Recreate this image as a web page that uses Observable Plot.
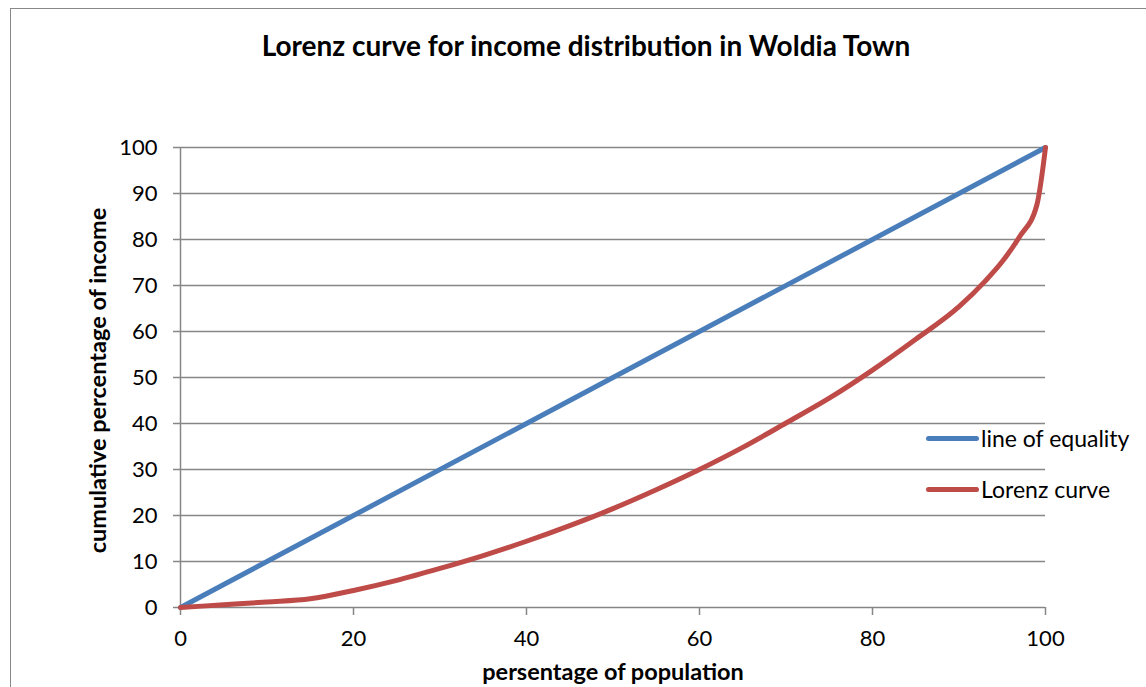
<!DOCTYPE html>
<html>
<head>
<meta charset="utf-8">
<script src="https://cdn.jsdelivr.net/npm/d3@7"></script>
<script src="https://cdn.jsdelivr.net/npm/@observablehq/plot@0.6"></script>
<style>
  html, body { margin:0; padding:0; background:#fff; overflow:hidden; }
  #wrap { position:relative; width:1146px; height:687px; font-family:Lato, "Open Sans", sans-serif; }
  #frame { position:absolute; left:10px; top:8px; width:1200px; height:800px; border:1.5px solid #888; box-sizing:border-box; }
  #chart { position:absolute; left:0; top:0; }
  .leg { position:absolute; display:flex; align-items:center; font-size:23px; color:#000; }
  .sw { width:53px; height:5px; border-radius:3px; margin-right:2px; }
</style>
</head>
<body>
<div id="wrap">
  <div id="frame"></div>
  <div id="chart"></div>
  <div id="legend"></div>
</div>
<script>
const titleText = "Lorenz curve for income distribution in Woldia Town";
const xLabel = "persentage of population";
const yLabel = "cumulative percentage of income";
const seriesNames = ["line of equality", "Lorenz curve"];
const seriesColors = ["#4A7EBB", "#BE4B48"];

const equalityX = [0, 100];
const equalityY = [0, 100];

const lorenzX = [0, 5, 10, 15, 20, 25, 30, 35, 40, 45, 50, 55, 60, 65, 70, 75, 80, 85, 90, 93, 95, 97, 99, 100];
const lorenzY = [0, 0.6, 1.2, 1.9, 3.7, 5.9, 8.5, 11.3, 14.4, 17.8, 21.5, 25.6, 30.0, 34.8, 40.1, 45.5, 51.6, 58.3, 65.4, 70.9, 75.2, 80.6, 87.5, 100];

const xTicks = [0, 20, 40, 60, 80, 100];
const yTicks = [0, 10, 20, 30, 40, 50, 60, 70, 80, 90, 100];

const equality = equalityX.map((x, i) => ({x, y: equalityY[i]}));
const lorenz = lorenzX.map((x, i) => ({x, y: lorenzY[i]}));

const gridColor = "#868686";

const chart = Plot.plot({
  width: 1146,
  height: 687,
  marginLeft: 180,
  marginRight: 101,
  marginTop: 147,
  marginBottom: 80,
  x: {domain: [0, 100]},
  y: {domain: [0, 100]},
  style: {fontFamily: "Lato, 'Open Sans', sans-serif", fontSize: "22px", color: "#000", background: "transparent", overflow: "visible"},
  marks: [
    Plot.gridY(yTicks, {stroke: gridColor, strokeOpacity: 1, strokeWidth: 1.5}),
    Plot.ruleX([0], {stroke: gridColor, strokeWidth: 1.5}),
    Plot.axisY(yTicks, {tickSize: 7, tickPadding: 16, label: null, stroke: gridColor, strokeWidth: 1.5, fill: "#000", fontSize: 22}),
    Plot.axisX(xTicks, {tickSize: 8, tickPadding: 15, label: null, stroke: gridColor, strokeWidth: 1.5, fill: "#000", fontSize: 22}),
    Plot.line(equality, {x: "x", y: "y", stroke: seriesColors[0], strokeWidth: 5}),
    Plot.line(lorenz, {x: "x", y: "y", stroke: seriesColors[1], strokeWidth: 5, curve: "monotone-x"}),
    Plot.text([titleText], {frameAnchor: "top", dx: -27, dy: -100, lineAnchor: "middle", fontSize: 28, fontWeight: "bold", fill: "#000"}),
    Plot.text([xLabel], {frameAnchor: "bottom", dy: 65, lineAnchor: "middle", fontSize: 23.5, fontWeight: "bold", fill: "#000"}),
    Plot.text([yLabel], {frameAnchor: "left", textAnchor: "middle", dx: -82, dy: 3, rotate: -90, lineAnchor: "middle", fontSize: 23.5, fontWeight: "bold", fill: "#000"})
  ]
});
document.getElementById("chart").appendChild(chart);

const legend = document.getElementById("legend");
const legendTops = [438, 489];
seriesNames.forEach((name, i) => {
  const d = document.createElement("div");
  d.className = "leg";
  d.style.left = "926px";
  d.style.top = (legendTops[i] - 14) + "px";
  d.style.height = "28px";
  d.innerHTML = `<div class="sw" style="background:${seriesColors[i]}"></div><span>${name}</span>`;
  legend.appendChild(d);
});
</script>
</body>
</html>
